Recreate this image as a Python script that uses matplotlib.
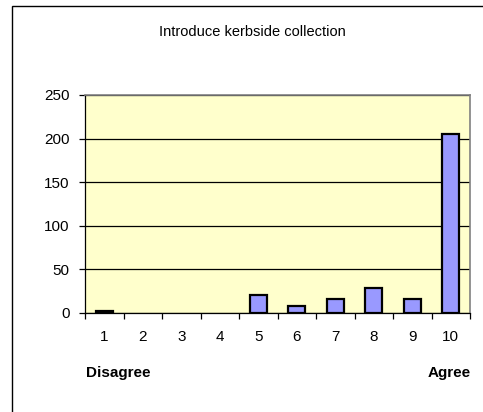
import matplotlib
matplotlib.use("Agg")
import matplotlib.pyplot as plt
import matplotlib.patches as patches
import numpy as np

# Datos
categorias = ["1", "2", "3", "4", "5", "6", "7", "8", "9", "10"]
valores = [2, 0, 0, 0, 21, 8, 16, 29, 16, 205]
titulo = "Introduce kerbside collection"

plt.rcParams["font.family"] = ["Liberation Sans", "DejaVu Sans"]

fig = plt.figure(figsize=(4.83, 4.12), dpi=100)
fig.patch.set_facecolor("white")

# Marco exterior del area del grafico (se sale por la derecha y abajo)
marco = patches.Rectangle((12 / 483, -0.1), 1.0, 1.1 - 6 / 412,
                          transform=fig.transFigure, fill=False,
                          edgecolor="black", linewidth=1.0, clip_on=False)
fig.patches.append(marco)

ax = fig.add_axes([85 / 483, 1 - 313 / 412, 385 / 483, 218 / 412])
ax.set_facecolor("#FFFFCC")

x = np.arange(len(categorias))
# las barras con valor 0 no llevan borde
bordes = [1.6 if v > 0 else 0 for v in valores]
ax.bar(x, valores, width=0.45, color="#9999FF", edgecolor="black",
       linewidth=bordes, zorder=3)

ax.set_xlim(-0.5, len(categorias) - 0.5)
ax.set_ylim(0, 250)
ax.set_yticks([0, 50, 100, 150, 200, 250])
ax.yaxis.grid(True, color="black", linewidth=0.9, zorder=1)
ax.set_axisbelow(True)

# etiquetas en el centro, marcas entre categorias
ax.set_xticks(x)
ax.set_xticklabels(categorias)
ax.set_xticks(np.arange(len(categorias) + 1) - 0.5, minor=True)
ax.tick_params(axis="x", which="major", length=0, pad=12, labelsize=11)
ax.tick_params(axis="x", which="minor", length=4, direction="out", width=0.9)
ax.tick_params(axis="y", length=4, width=0.9, pad=7, labelsize=11)

for lado in ["top", "right"]:
    ax.spines[lado].set_color("#808080")
    ax.spines[lado].set_linewidth(1.2)
ax.spines["left"].set_linewidth(0.9)
ax.spines["bottom"].set_linewidth(0.9)

fig.text(252 / 483, 1 - 32 / 412, titulo, ha="center", va="center", fontsize=10.5)
fig.text(118 / 483, 1 - 373 / 412, "Disagree", ha="center", va="center",
         fontsize=11, fontweight="bold")
fig.text(449 / 483, 1 - 373 / 412, "Agree", ha="center", va="center",
         fontsize=11, fontweight="bold")

fig.savefig("out.png", dpi=100)
